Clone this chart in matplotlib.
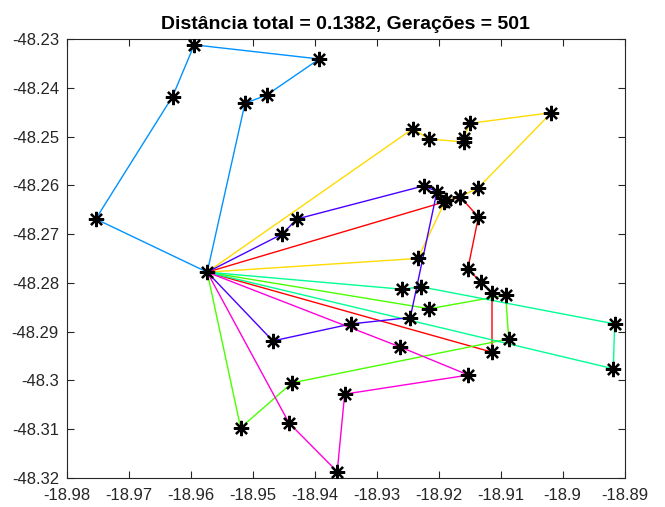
import numpy as np
import matplotlib
matplotlib.use('Agg')
from matplotlib import pyplot as plt
from matplotlib.colors import hsv_to_rgb

# deposito
depot = (-18.9574, -48.2778)

# rotas (sem o deposito), na ordem de visita
route_red_x = [-18.9191, -18.9165, -18.9136, -18.9153, -18.9132, -18.9114, -18.9114]
route_red_y = [-48.2634, -48.2624, -48.2665, -48.2771, -48.2799, -48.2820, -48.2942]

route_yellow_x = [-18.9234, -18.9189, -18.9165, -18.9136, -18.9018, -18.9150, -18.9160, -18.9160, -18.9216, -18.9242]
route_yellow_y = [-48.2750, -48.2631, -48.2623, -48.2605, -48.2451, -48.2473, -48.2504, -48.2511, -48.2505, -48.2484]

route_green_x = [-18.9215, -18.9092, -18.9087, -18.9437, -18.9520]
route_green_y = [-48.2853, -48.2825, -48.2915, -48.3005, -48.3097]

route_spring_x = [-18.9259, -18.9229, -18.8916, -18.8918]
route_spring_y = [-48.2813, -48.2808, -48.2884, -48.2976]

route_sky_x = [-18.9754, -18.9630, -18.9595, -18.9393, -18.9478, -18.9513]
route_sky_y = [-48.2669, -48.2418, -48.2312, -48.2341, -48.2415, -48.2432]

route_violet_x = [-18.9453, -18.9429, -18.9224, -18.9203, -18.9246, -18.9341, -18.9468]
route_violet_y = [-48.2700, -48.2669, -48.2601, -48.2613, -48.2871, -48.2884, -48.2919]

route_magenta_x = [-18.9263, -18.9152, -18.9352, -18.9364, -18.9442]
route_magenta_y = [-48.2931, -48.2989, -48.3028, -48.3187, -48.3087]

routes = [(route_red_x, route_red_y), (route_yellow_x, route_yellow_y),
          (route_green_x, route_green_y), (route_spring_x, route_spring_y),
          (route_sky_x, route_sky_y), (route_violet_x, route_violet_y),
          (route_magenta_x, route_magenta_y)]

xticks = [-18.98, -18.97, -18.96, -18.95, -18.94, -18.93, -18.92, -18.91, -18.90, -18.89]
xticklabels = ['-18.98', '-18.97', '-18.96', '-18.95', '-18.94', '-18.93', '-18.92', '-18.91', '-18.9', '-18.89']
yticks = [-48.32, -48.31, -48.30, -48.29, -48.28, -48.27, -48.26, -48.25, -48.24, -48.23]
yticklabels = ['-48.32', '-48.31', '-48.3', '-48.29', '-48.28', '-48.27', '-48.26', '-48.25', '-48.24', '-48.23']

titulo = 'Distância total = 0.1382, Gerações = 501'

plt.rcParams['font.family'] = ['Liberation Sans', 'DejaVu Sans']

fig = plt.figure(figsize=(6.65, 5.07), dpi=100)
ax = fig.add_axes([0.1012, 0.0572, 0.8379, 0.8659])

# uma cor por rota (hsv)
n = len(routes)
for k, (rx, ry) in enumerate(routes):
    cor = hsv_to_rgb([k / n, 1.0, 1.0])
    xs = [depot[0]] + list(rx) + [depot[0]]
    ys = [depot[1]] + list(ry) + [depot[1]]
    ax.plot(xs, ys, '-', color=cor, lw=1.0, zorder=2)

# todos os pontos por cima
allx = [depot[0]] + [v for rx, _ in routes for v in rx]
ally = [depot[1]] + [v for _, ry in routes for v in ry]
ax.plot(allx, ally, linestyle='none', marker=(8, 2, 0), color='k',
        markersize=11, markeredgewidth=1.6, zorder=3)

ax.set_xlim(-18.98, -18.89)
ax.set_ylim(-48.32, -48.23)
ax.set_xticks(xticks)
ax.set_xticklabels(xticklabels)
ax.set_yticks(yticks)
ax.set_yticklabels(yticklabels)

cinza = (0.15, 0.15, 0.15)
ax.tick_params(direction='in', length=5, width=0.8, top=True, right=True,
               labelsize=12, colors=cinza)
ax.tick_params(axis='x', pad=7)
ax.tick_params(axis='y', pad=6)
for s in ax.spines.values():
    s.set_color(cinza)
    s.set_linewidth(0.8)

ax.set_title(titulo, fontsize=14, fontweight='bold', pad=7)

fig.savefig('out.png', dpi=100)
